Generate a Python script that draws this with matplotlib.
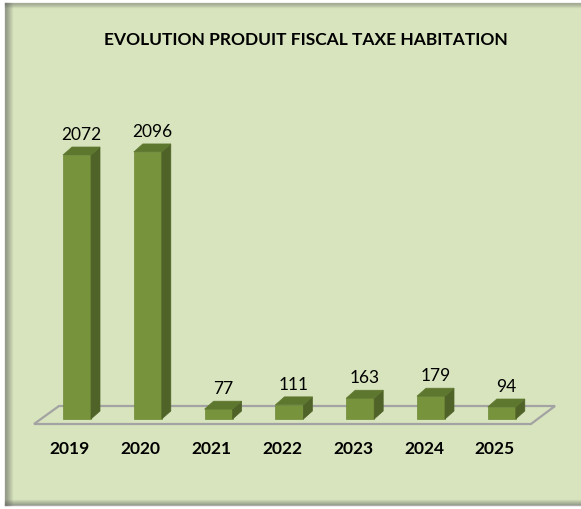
import matplotlib.pyplot as plt
from matplotlib.patches import Polygon, Rectangle

# data
years = ['2019', '2020', '2021', '2022', '2023', '2024', '2025']
values = [2072, 2096, 77, 111, 163, 179, 94]
title = 'EVOLUTION PRODUIT FISCAL TAXE HABITATION'

W, H = 581, 510
fig = plt.figure(figsize=(W / 100, H / 100), dpi=100)
fig.patch.set_facecolor('white')

# background / frame in pixel coords
bg = fig.add_axes([0, 0, 1, 1])
bg.set_xlim(0, W)
bg.set_ylim(H, 0)
bg.axis('off')
bg.add_patch(Rectangle((5, 4), W - 5, 502, facecolor='#D7E4BD', edgecolor='none'))
# inner shadow on left / top / bottom
for k in range(8):
    a = 0.45 * (1 - k / 8)
    bg.plot([5 + k, 5 + k], [4, 506], color='#555555', alpha=a, lw=1)
for k in range(5):
    a = 0.35 * (1 - k / 5)
    bg.plot([5, W], [4 + k, 4 + k], color='#555555', alpha=a, lw=1)
for k in range(6):
    a = 0.45 * (1 - k / 6)
    bg.plot([5, W], [506 - k, 506 - k], color='#555555', alpha=a, lw=1)

# chart axes: category i at px 77 + 70.8*i, value 0 at px 420
sx = 70.8
sy = (420 - 156) / 2072.0
ax = fig.add_axes([0, 0, 1, 1], zorder=2)
ax.patch.set_alpha(0)
ax.set_xlim(-77 / sx, (W - 77) / sx)
ax.set_ylim((420 - H) / sy, 420 / sy)
ax.axis('off')

w = 28 / sx
dx = 9 / sx
dy = 8 / sy

# floor
fy_front = (420 - 425) / sy
fy_back = (420 - 407) / sy
floor = Polygon([((34 - 77) / sx, fy_front), ((531 - 77) / sx, fy_front),
                 ((555 - 77) / sx, fy_back), ((59 - 77) / sx, fy_back)],
                closed=True, facecolor='none', edgecolor='#A3A3A3', lw=1.6, zorder=1)
ax.add_patch(floor)

font = ['Lato', 'DejaVu Sans']
for i, v in enumerate(values):
    x0, x1 = i - w / 2, i + w / 2
    ax.add_patch(Polygon([(x0, 0), (x1, 0), (x1, v), (x0, v)],
                         facecolor='#77933C', edgecolor='#6E8A36', lw=0.5, zorder=3))
    ax.add_patch(Polygon([(x1, 0), (x1 + dx, dy), (x1 + dx, v + dy), (x1, v)],
                         facecolor='#4F6228', edgecolor='#4F6228', lw=0.5, zorder=3))
    ax.add_patch(Polygon([(x0, v), (x1, v), (x1 + dx, v + dy), (x0 + dx, v + dy)],
                         facecolor='#5E772F', edgecolor='#5E772F', lw=0.5, zorder=3))
    ax.text(i + dx / 2, v + dy + 5 / sy, f'{v}', ha='center', va='bottom',
            fontsize=12.5, family=font, color='black', zorder=4)
    ax.text(i - 7 / sx, (420 - 449) / sy, years[i], ha='center', va='center',
            fontsize=12.5, fontweight='bold', family=font, color='black', zorder=4)

bg.text(306, 40, title, ha='center', va='center', fontsize=12.5,
        fontweight='bold', family=font, color='black')

fig.savefig('out.png', dpi=100)
